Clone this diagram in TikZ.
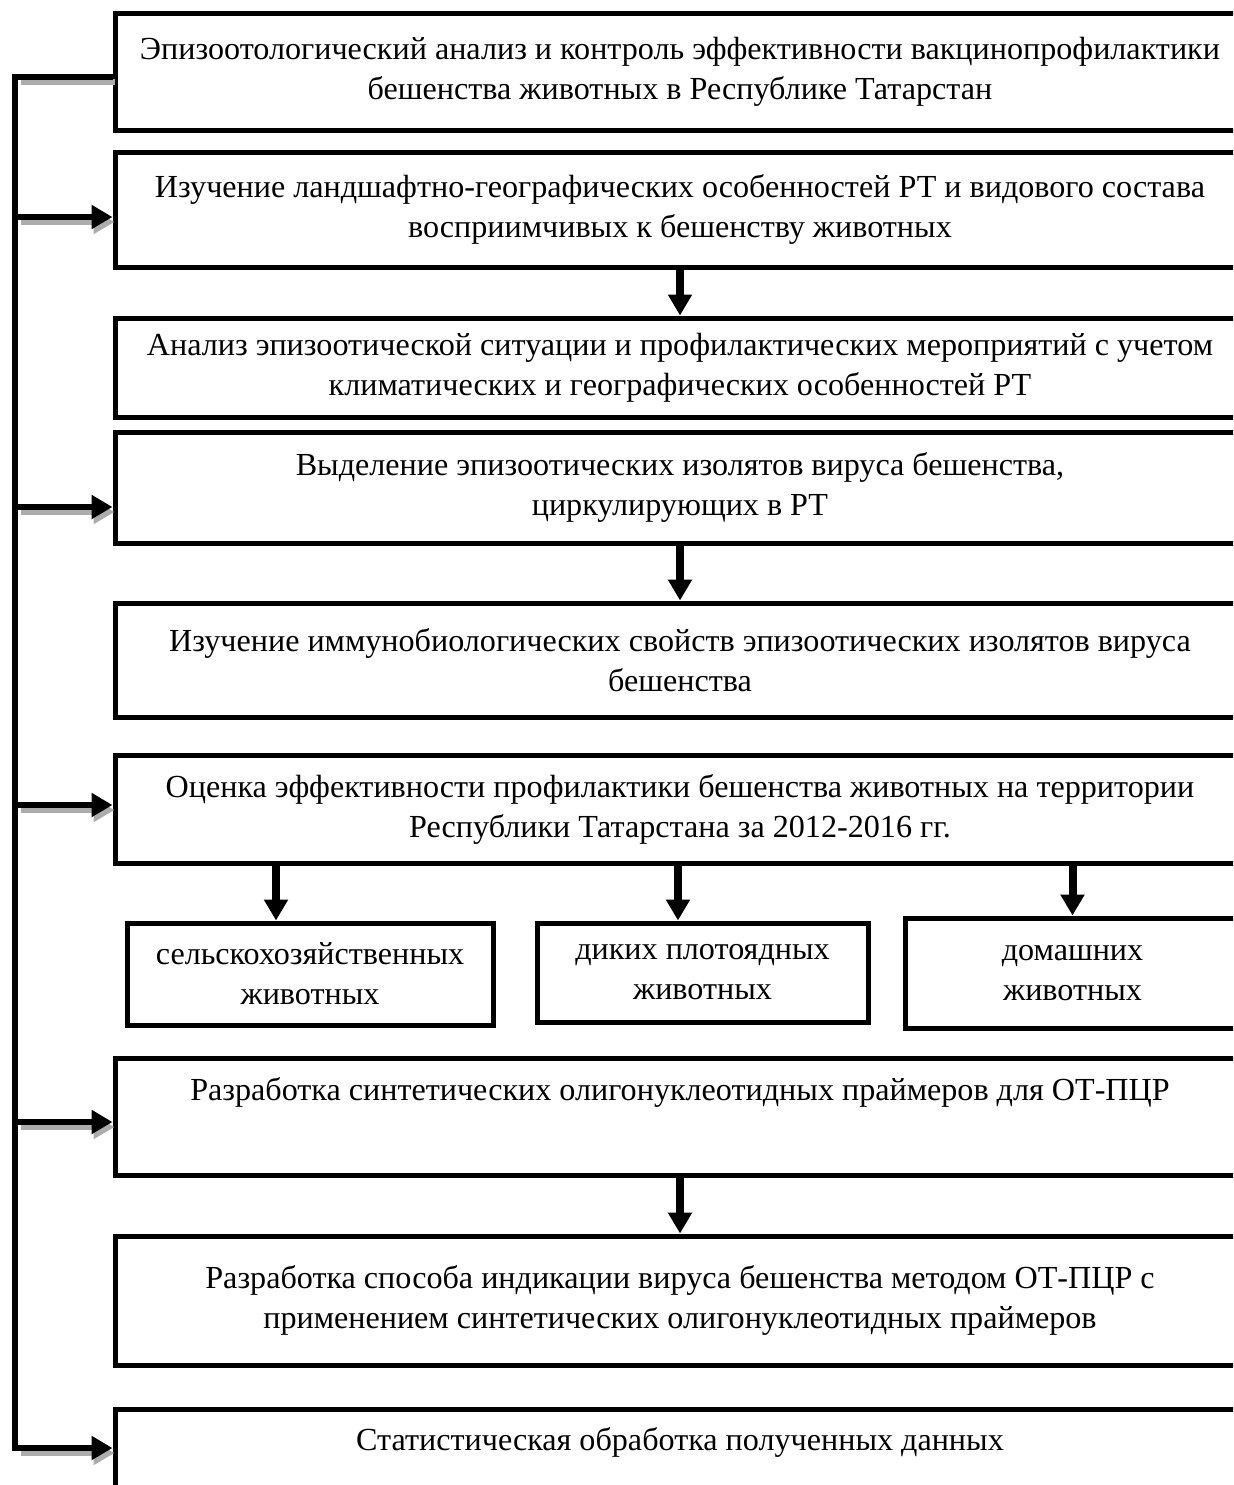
\documentclass[tikz,border=0pt]{standalone}
\usepackage{fontspec}
\setmainfont{Liberation Serif}
\usetikzlibrary{arrows.meta}
\begin{document}
\begin{tikzpicture}[x=0.75pt, y=-0.75pt,
    box style/.style={draw=black, line width=3.75pt, align=center, inner sep=0pt,
      font=\fontsize{24.1}{30}\selectfont},
    wide box/.style={box style, minimum width=847.5pt},
    one line/.style={text depth=41pt},
    arrow style/.style={line width=5pt, line join=miter,
      -{Triangle[length=15.75pt,width=17.25pt]}},
    down style/.style={arrow style, line width=6pt},
    shadow style/.style={arrow style, draw=gray!65,
      transform canvas={xshift=1.5pt, yshift=-3.75pt}}]
    \useasboundingbox (0,0) rectangle (1233,1485);
    \clip (0,0) rectangle (1233,1485);

    % main column
    \node[wide box, minimum height=87.75pt] (b1) at (680,71.5)
      {Эпизоотологический анализ и контроль эффективности вакцинопрофилактики\\
       бешенства животных в Республике Татарстан};
    \node[wide box, minimum height=86.25pt] (b2) at (680,209.5)
      {Изучение ландшафтно-географических особенностей РТ и видового состава\\
       восприимчивых к бешенству животных};
    \node[wide box, minimum height=74.25pt] (b3) at (680,367.5)
      {Анализ эпизоотической ситуации и профилактических мероприятий с учетом\\
       климатических и географических особенностей РТ};
    \node[wide box, minimum height=83.25pt] (b4) at (680,487.5)
      {Выделение эпизоотических изолятов вируса бешенства,\\
       циркулирующих в РТ};
    \node[wide box, minimum height=85.5pt] (b5) at (680,660)
      {Изучение иммунобиологических свойств эпизоотических изолятов вируса\\
       бешенства};
    \node[wide box, minimum height=81pt] (b6) at (680,809)
      {Оценка эффективности профилактики бешенства животных на территории\\
       Республики Татарстана за 2012-2016 гг.};
    \node[wide box, one line, minimum height=87.75pt] (b7) at (680,1116.5)
      {Разработка синтетических олигонуклеотидных праймеров для ОТ-ПЦР};
    \node[wide box, minimum height=96.75pt] (b8) at (680,1300.5)
      {Разработка способа индикации вируса бешенства методом ОТ-ПЦР с\\
       применением синтетических олигонуклеотидных праймеров};
    \node[wide box, one line, minimum height=86.25pt] (b9) at (680,1466.5)
      {Статистическая обработка полученных данных};

    % groups of animals
    \node[box style, minimum width=274.5pt, minimum height=76.5pt] (farm) at (310,974)
      {сельскохозяйственных\\ животных};
    \node[box style, minimum width=248.25pt, minimum height=74.25pt] (wild) at (702.5,972.5)
      {диких плотоядных\\ животных};
    \node[box style, minimum width=251.25pt, minimum height=82.5pt] (home) at (1072.5,973)
      {домашних\\ животных};

    % left spine
    \coordinate (top) at (15,77);
    \coordinate (bottom) at (15,1448);
    \draw[shadow style, -, shorten >=3pt] (top -| b1.west) -- (top);
    \draw[shadow style, shorten <=3pt] (bottom) -- (bottom -| b9.west);
    \draw[arrow style] (top -| b1.west) -- (top) -- (bottom) -- (bottom -| b9.west);

    \foreach \b/\yy in {b2/217, b4/507, b6/805, b7/1122} {
      \coordinate (s\b) at (15,\yy);
      \draw[shadow style, shorten <=3pt] (s\b) -- (s\b -| \b.west);
      \draw[arrow style] (s\b) -- (s\b -| \b.west);
    }

    \draw[down style] (b2) -- (b3);
    \draw[down style] (b4) -- (b5);
    \draw[down style] (b7) -- (b8);

    \draw[down style] ([xshift=-25.5pt]farm.north |- b6.south) -- ([xshift=-25.5pt]farm.north);
    \draw[down style] ([xshift=-18.4pt]wild.north |- b6.south) -- ([xshift=-18.4pt]wild.north);
    \draw[down style] (home.north |- b6.south) -- (home.north);

\end{tikzpicture}
\end{document}
